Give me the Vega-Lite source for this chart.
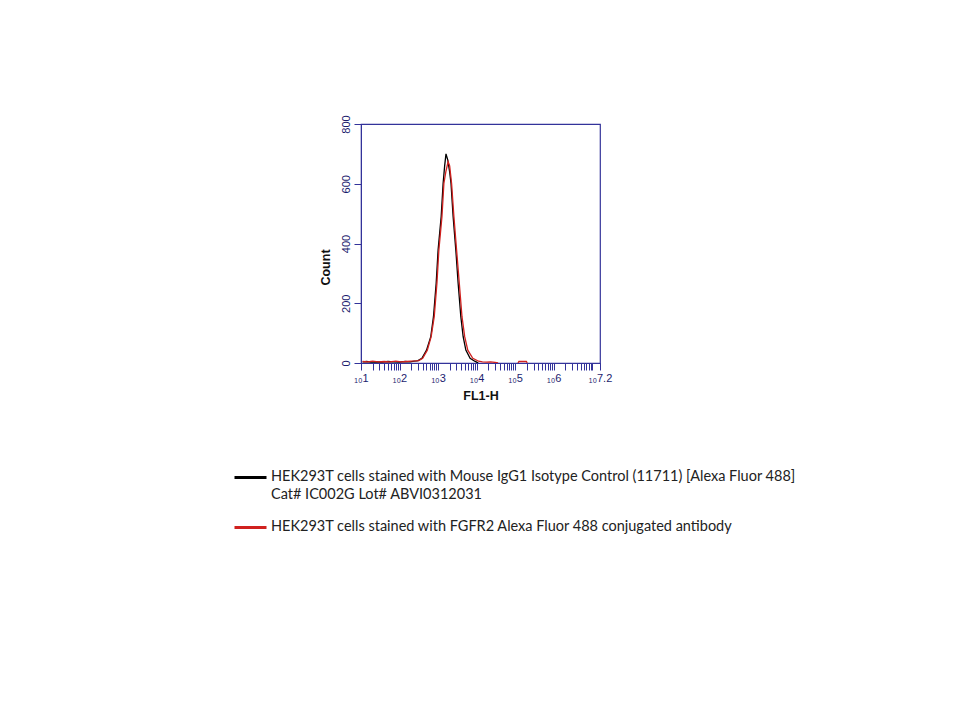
{
  "$schema": "https://vega.github.io/schema/vega-lite/v6.json",
  "width": 239,
  "height": 239,
  "autosize": {"type": "none"},
  "padding": {"left": 361, "top": 124, "right": 360, "bottom": 357},
  "background": "white",
  "config": {
    "view": {"stroke": "#33339a", "strokeWidth": 1.2},
    "font": "Liberation Sans"
  },
  "data": {
    "values": [
      {"sample": "iso", "seg": 1, "fl1": 11, "count": 4},
      {"sample": "iso", "seg": 1, "fl1": 14, "count": 5},
      {"sample": "iso", "seg": 1, "fl1": 18, "count": 3},
      {"sample": "iso", "seg": 1, "fl1": 25, "count": 4},
      {"sample": "iso", "seg": 1, "fl1": 35, "count": 3},
      {"sample": "iso", "seg": 1, "fl1": 50, "count": 5},
      {"sample": "iso", "seg": 1, "fl1": 70, "count": 4},
      {"sample": "iso", "seg": 1, "fl1": 100, "count": 3},
      {"sample": "iso", "seg": 1, "fl1": 140, "count": 5},
      {"sample": "iso", "seg": 1, "fl1": 190, "count": 4},
      {"sample": "iso", "seg": 1, "fl1": 240, "count": 6},
      {"sample": "iso", "seg": 1, "fl1": 280, "count": 7},
      {"sample": "iso", "seg": 1, "fl1": 302, "count": 8},
      {"sample": "iso", "seg": 1, "fl1": 380, "count": 16},
      {"sample": "iso", "seg": 1, "fl1": 501, "count": 43},
      {"sample": "iso", "seg": 1, "fl1": 646, "count": 88},
      {"sample": "iso", "seg": 1, "fl1": 759, "count": 155},
      {"sample": "iso", "seg": 1, "fl1": 891, "count": 267},
      {"sample": "iso", "seg": 1, "fl1": 1000, "count": 378},
      {"sample": "iso", "seg": 1, "fl1": 1202, "count": 490},
      {"sample": "iso", "seg": 1, "fl1": 1349, "count": 601},
      {"sample": "iso", "seg": 1, "fl1": 1479, "count": 660},
      {"sample": "iso", "seg": 1, "fl1": 1603, "count": 700},
      {"sample": "iso", "seg": 1, "fl1": 1778, "count": 680},
      {"sample": "iso", "seg": 1, "fl1": 1995, "count": 640},
      {"sample": "iso", "seg": 1, "fl1": 2163, "count": 601},
      {"sample": "iso", "seg": 1, "fl1": 2455, "count": 490},
      {"sample": "iso", "seg": 1, "fl1": 2884, "count": 378},
      {"sample": "iso", "seg": 1, "fl1": 3311, "count": 267},
      {"sample": "iso", "seg": 1, "fl1": 3890, "count": 155},
      {"sample": "iso", "seg": 1, "fl1": 4467, "count": 88},
      {"sample": "iso", "seg": 1, "fl1": 5248, "count": 43},
      {"sample": "iso", "seg": 1, "fl1": 6761, "count": 16},
      {"sample": "iso", "seg": 1, "fl1": 8913, "count": 6},
      {"sample": "iso", "seg": 1, "fl1": 10000, "count": 3},
      {"sample": "iso", "seg": 1, "fl1": 11000, "count": 0},
      {"sample": "fgfr2", "seg": 1, "fl1": 11, "count": 5},
      {"sample": "fgfr2", "seg": 1, "fl1": 15, "count": 4},
      {"sample": "fgfr2", "seg": 1, "fl1": 20, "count": 6},
      {"sample": "fgfr2", "seg": 1, "fl1": 28, "count": 4},
      {"sample": "fgfr2", "seg": 1, "fl1": 40, "count": 5},
      {"sample": "fgfr2", "seg": 1, "fl1": 55, "count": 4},
      {"sample": "fgfr2", "seg": 1, "fl1": 80, "count": 6},
      {"sample": "fgfr2", "seg": 1, "fl1": 110, "count": 4},
      {"sample": "fgfr2", "seg": 1, "fl1": 150, "count": 5},
      {"sample": "fgfr2", "seg": 1, "fl1": 200, "count": 6},
      {"sample": "fgfr2", "seg": 1, "fl1": 260, "count": 7},
      {"sample": "fgfr2", "seg": 1, "fl1": 316, "count": 8},
      {"sample": "fgfr2", "seg": 1, "fl1": 398, "count": 16},
      {"sample": "fgfr2", "seg": 1, "fl1": 525, "count": 43},
      {"sample": "fgfr2", "seg": 1, "fl1": 661, "count": 88},
      {"sample": "fgfr2", "seg": 1, "fl1": 794, "count": 155},
      {"sample": "fgfr2", "seg": 1, "fl1": 933, "count": 267},
      {"sample": "fgfr2", "seg": 1, "fl1": 1047, "count": 378},
      {"sample": "fgfr2", "seg": 1, "fl1": 1259, "count": 490},
      {"sample": "fgfr2", "seg": 1, "fl1": 1413, "count": 601},
      {"sample": "fgfr2", "seg": 1, "fl1": 1585, "count": 640},
      {"sample": "fgfr2", "seg": 1, "fl1": 1820, "count": 674},
      {"sample": "fgfr2", "seg": 1, "fl1": 1995, "count": 660},
      {"sample": "fgfr2", "seg": 1, "fl1": 2239, "count": 601},
      {"sample": "fgfr2", "seg": 1, "fl1": 2570, "count": 490},
      {"sample": "fgfr2", "seg": 1, "fl1": 3020, "count": 378},
      {"sample": "fgfr2", "seg": 1, "fl1": 3548, "count": 267},
      {"sample": "fgfr2", "seg": 1, "fl1": 4169, "count": 155},
      {"sample": "fgfr2", "seg": 1, "fl1": 4898, "count": 88},
      {"sample": "fgfr2", "seg": 1, "fl1": 5888, "count": 43},
      {"sample": "fgfr2", "seg": 1, "fl1": 7943, "count": 16},
      {"sample": "fgfr2", "seg": 1, "fl1": 11220, "count": 6},
      {"sample": "fgfr2", "seg": 1, "fl1": 14125, "count": 4},
      {"sample": "fgfr2", "seg": 1, "fl1": 18000, "count": 3},
      {"sample": "fgfr2", "seg": 1, "fl1": 23000, "count": 4},
      {"sample": "fgfr2", "seg": 1, "fl1": 30000, "count": 2},
      {"sample": "fgfr2", "seg": 1, "fl1": 36000, "count": 0},
      {"sample": "fgfr2", "seg": 2, "fl1": 118000, "count": 0},
      {"sample": "fgfr2", "seg": 2, "fl1": 125000, "count": 5},
      {"sample": "fgfr2", "seg": 2, "fl1": 195000, "count": 5},
      {"sample": "fgfr2", "seg": 2, "fl1": 205000, "count": 0}
    ]
  },
  "mark": {"type": "line", "strokeWidth": 1.3, "clip": true},
  "encoding": {
    "x": {
      "field": "fl1",
      "type": "quantitative",
      "scale": {"type": "log", "domain": [10, 15848932]},
      "axis": {
        "title": "FL1-H",
        "titleFont": "Liberation Sans",
        "titleFontWeight": "bold",
        "titleFontSize": 12.5,
        "titleColor": "#111111",
        "titlePadding": 6,
        "values": [10, 20, 30, 40, 50, 60, 70, 80, 90,
                   100, 200, 300, 400, 500, 600, 700, 800, 900,
                   1000, 2000, 3000, 4000, 5000, 6000, 7000, 8000, 9000,
                   10000, 20000, 30000, 40000, 50000, 60000, 70000, 80000, 90000,
                   100000, 200000, 300000, 400000, 500000, 600000, 700000, 800000, 900000,
                   1000000, 2000000, 3000000, 4000000, 5000000, 6000000, 7000000, 8000000, 9000000,
                   10000000, 15848932],
        "labelExpr": "datum.value == 10 ? '₁₀1' : datum.value == 100 ? '₁₀2' : datum.value == 1000 ? '₁₀3' : datum.value == 10000 ? '₁₀4' : datum.value == 100000 ? '₁₀5' : datum.value == 1000000 ? '₁₀6' : datum.value > 15000000 ? '₁₀7.2' : ''",
        "labelOverlap": false,
        "labelFlush": false,
        "labelFontSize": 11,
        "labelColor": "#1c1c6e",
        "labelPadding": 2,
        "tickSize": 7,
        "tickColor": "#33339a",
        "domainColor": "#33339a",
        "grid": false
      }
    },
    "y": {
      "field": "count",
      "type": "quantitative",
      "scale": {"domain": [0, 800]},
      "axis": {
        "title": "Count",
        "titleFont": "Liberation Sans",
        "titleFontWeight": "bold",
        "titleFontSize": 12.5,
        "titleColor": "#111111",
        "titleY": 143,
        "titlePadding": 8,
        "values": [0, 200, 400, 600, 800],
        "labelAngle": -90,
        "labelAlign": "center",
        "labelBaseline": "bottom",
        "labelFontSize": 11,
        "labelColor": "#1c1c6e",
        "labelPadding": 3,
        "tickSize": 7,
        "tickColor": "#33339a",
        "domainColor": "#33339a",
        "grid": false
      }
    },
    "color": {
      "field": "sample",
      "type": "nominal",
      "scale": {"domain": ["iso", "fgfr2"], "range": ["#000000", "#d0211f"]},
      "legend": {
        "orient": "none",
        "legendX": -128,
        "legendY": 336,
        "title": null,
        "symbolType": "stroke",
        "symbolSize": 1024,
        "symbolStrokeWidth": 3,
        "labelFont": "Lato",
        "labelFontSize": 14.5,
        "labelColor": "#222222",
        "labelLimit": 0,
        "labelOffset": 3,
        "labelBaseline": "top",
        "rowPadding": 9,
        "labelExpr": "datum.value == 'iso' ? ['HEK293T cells stained with Mouse IgG1 Isotype Control (11711) [Alexa Fluor 488]', 'Cat# IC002G Lot# ABVI0312031'] : 'HEK293T cells stained with FGFR2 Alexa Fluor 488 conjugated antibody'",
        "encode": {
          "labels": {"update": {"dy": {"value": -8}, "lineHeight": {"value": 18}}}
        }
      }
    },
    "detail": {"field": "seg", "type": "nominal"}
  }
}
